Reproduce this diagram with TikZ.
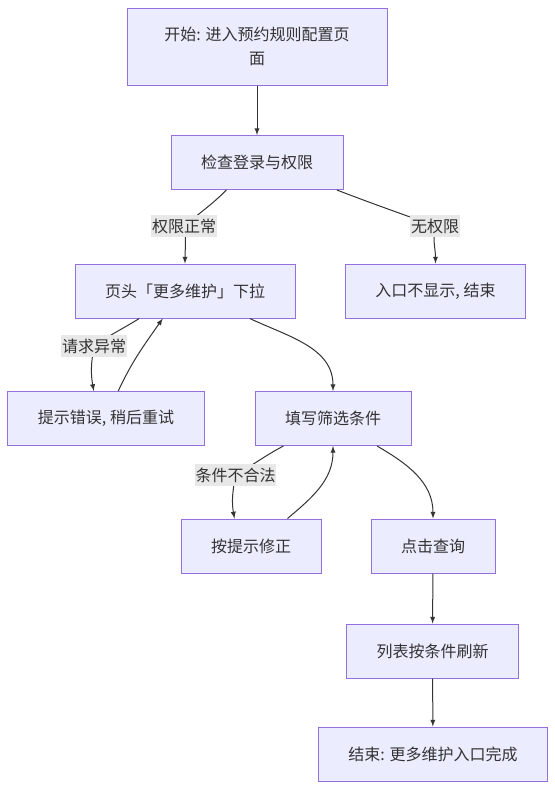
\documentclass[tikz,border=0pt]{standalone}
\usepackage{fontspec}
\setmainfont{Noto Sans CJK SC}
\usetikzlibrary{arrows}

\definecolor{boxfill}{HTML}{ECECFF}
\definecolor{boxline}{HTML}{9370DB}
\definecolor{edgeline}{HTML}{333333}
\definecolor{labelfill}{HTML}{E8E8E8}

\begin{document}
\begin{tikzpicture}[x=0.75pt,y=-0.75pt,
    box/.style={draw=boxline,fill=boxfill,line width=0.75pt,inner xsep=22.5pt,
        minimum height=40.5pt,align=center,text=edgeline,
        font=\fontsize{12pt}{18pt}\selectfont},
    lbl/.style={fill=labelfill,inner xsep=0.5pt,inner ysep=3pt,text=edgeline,
        font=\fontsize{12pt}{18pt}\selectfont},
    flow/.style={draw=edgeline,line width=0.75pt,-latex}]
    \useasboundingbox (0,0) rectangle (555,790);

    % boxes
    \node[box,minimum width=195pt,minimum height=57.75pt] (start) at (257,46.5) {开始: 进入预约规则配置页\\面};
    \node[box] (check) at (257,162.5) {检查登录与权限};
    \node[box] (header) at (185,291) {页头「更多维护」下拉};
    \node[box] (noaccess) at (435.5,291) {入口不显示, 结束};
    \node[box] (error) at (106,418.5) {提示错误, 稍后重试};
    \node[box] (fill) at (333,418.5) {填写筛选条件};
    \node[box] (fix) at (251,546) {按提示修正};
    \node[box] (query) at (433,546) {点击查询};
    \node[box] (refresh) at (432.5,651) {列表按条件刷新};
    \node[box] (finish) at (433,754) {结束: 更多维护入口完成};

    % label spots
    \coordinate (okp) at (184,226);
    \coordinate (nop) at (435,226);
    \coordinate (errp) at (94,346);
    \coordinate (badp) at (235.5,475);

    % connectors
    \draw[flow] (start) -- (check);
    \draw[flow] (check.222) to[out=225,in=40] (okp) to[out=-80,in=90] (header.north);
    \draw[flow] (check.-19) to[out=-21,in=160] (nop) to[out=-100,in=90] (noaccess.north);
    \draw[flow] (header.211) to[out=212,in=35] (errp) to[out=-100,in=100] (error.114);
    \draw[flow] (error.66) to[out=65,in=-125] (header.231);
    \draw[flow] (header.-23) to[out=-25,in=90] (fill.north);
    \draw[flow] (fill.209) to[out=208,in=30] (badp) to[out=-100,in=100] (fix.121);
    \draw[flow] (fix.37) to[out=40,in=-90] (fill.south);
    \draw[flow] (fill.-32) to[out=-30,in=90] (query.north);
    \draw[flow] (query) -- (refresh);
    \draw[flow] (refresh) -- (finish);

    % edge labels
    \node[lbl] (okl) at (okp) {权限正常};
    \node[lbl] (nol) at (nop) {无权限};
    \node[lbl] (errl) at (errp) {请求异常};
    \node[lbl] (badl) at (badp) {条件不合法};
\end{tikzpicture}
\end{document}
